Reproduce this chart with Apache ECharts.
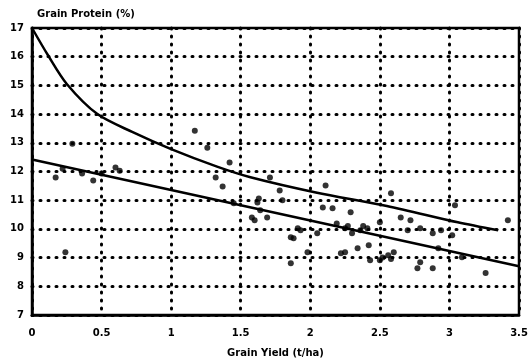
<!DOCTYPE html>
<html>
<head>
<meta charset="utf-8">
<script src="https://cdn.jsdelivr.net/npm/echarts@6/dist/echarts.min.js"></script>
<style>html,body{margin:0;padding:0;background:#fff}#c{width:532px;height:364px}</style>
</head>
<body>
<div id="c"></div>
<script>
var xTicks = [0, 0.5, 1, 1.5, 2, 2.5, 3, 3.5];
var yTicks = [7, 8, 9, 10, 11, 12, 13, 14, 15, 16, 17];
var upperCurve = [[0,17],[0.115,16.05],[0.25,15.05],[0.47,14.0],[0.72,13.38],[1.0,12.78],[1.33,12.17],[1.57,11.8],[2.04,11.27],[2.55,10.8],[3.06,10.23],[3.35,9.95]];
var lowerLine = [[0,12.42],[3.5,8.7]];
var samples = [
  [0.17,11.79],[0.22,12.1],[0.29,12.97],[0.36,11.93],[0.44,11.69],[0.5,11.93],[0.6,12.14],[0.63,12.03],[0.24,9.19],
  [1.17,13.42],[1.26,12.83],[1.42,12.31],[1.32,11.79],[1.37,11.48],[1.45,10.89],[1.58,10.4],[1.63,11.06],[1.62,10.92],
  [1.64,10.65],[1.69,10.4],[1.6,10.3],[1.71,11.79],[1.78,11.34],[1.8,11.0],
  [1.86,9.71],[1.88,9.67],[1.91,10.02],[1.93,9.95],[1.98,9.19],[2.05,9.85],[1.86,8.8],[2.09,10.75],[2.11,11.51],
  [2.16,10.72],[2.19,10.19],[2.22,9.15],[2.25,10.02],[2.25,9.19],[2.29,10.58],[2.34,9.33],[2.36,9.95],[2.41,10.02],
  [2.42,9.43],[2.43,8.91],[2.5,10.23],[2.5,8.91],[2.56,9.08],[2.58,11.24],[2.6,9.19],[2.65,10.4],[2.7,9.95],
  [2.72,10.3],[2.79,10.02],[2.77,8.63],[2.79,8.84],[2.88,9.85],[2.88,8.63],[2.92,9.33],[2.94,9.95],[3.02,9.78],
  [3.04,10.82],[3.09,9.01],[3.26,8.46],[3.42,10.3],[2.3,9.85],[2.27,10.1],[2.38,10.1],[2.52,9.0],[2.58,8.95]
];

var fontFam = 'DejaVu Sans';
var dotted = {color:'#000', width:3, type:[1,7], cap:'round'};
var chart = echarts.init(document.getElementById('c'), null, {renderer:'canvas'});
chart.setOption({
  animation: false,
  backgroundColor: '#fff',
  title: {
    text: 'Grain Protein (%)', left: 32, top: 4,
    textStyle: {fontFamily: fontFam, fontSize: 10, fontWeight: 'bold', color: '#000'}
  },
  grid: {left: 32, right: 13, top: 28, bottom: 49, show: true, borderColor: '#000', borderWidth: 2.5, backgroundColor: 'transparent'},
  xAxis: {
    type: 'value', min: 0, max: 3.5, interval: 0.5,
    name: 'Grain Yield (t/ha)', nameLocation: 'middle', nameGap: 33,
    nameTextStyle: {fontFamily: fontFam, fontSize: 10, fontWeight: 'bold', color: '#000'},
    axisLine: {show: true, lineStyle: {color: '#000', width: 2.5}},
    axisTick: {show: false},
    axisLabel: {fontFamily: fontFam, fontSize: 10, fontWeight: 'bold', color: '#000', margin: 13,
      formatter: function(v){ return xTicks.indexOf(v) >= 0 ? String(v) : ''; }},
    splitLine: {show: true, lineStyle: dotted}
  },
  yAxis: {
    type: 'value', min: 7, max: 17, interval: 1,
    axisLine: {show: true, lineStyle: {color: '#000', width: 2.5}},
    axisTick: {show: false},
    axisLabel: {fontFamily: fontFam, fontSize: 10, fontWeight: 'bold', color: '#000', margin: 8,
      formatter: function(v){ return yTicks.indexOf(v) >= 0 ? String(v) : ''; }},
    splitLine: {show: true, lineStyle: dotted}
  },
  series: [
    {type: 'scatter', data: samples, symbol: 'circle', symbolSize: 6, itemStyle: {color: '#000'}, z: 3},
    {type: 'line', data: upperCurve, smooth: 0.3, showSymbol: false, lineStyle: {color: '#000', width: 2.5}, z: 4},
    {type: 'line', data: lowerLine, showSymbol: false, lineStyle: {color: '#000', width: 2.5}, z: 4}
  ]
});
</script>
</body>
</html>
